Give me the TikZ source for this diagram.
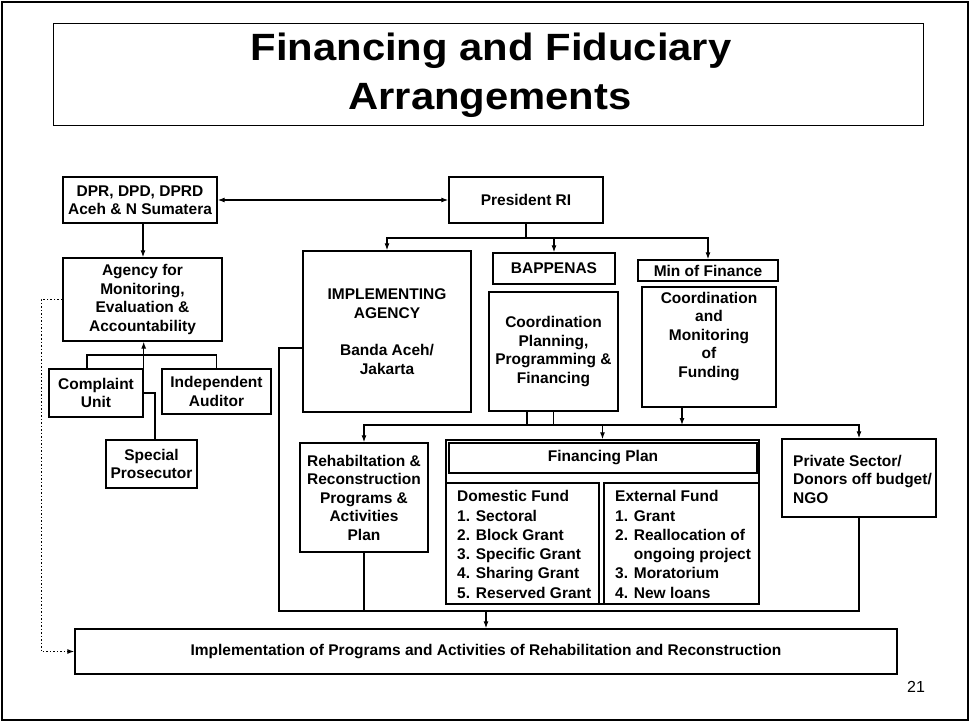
\documentclass[tikz,border=0pt]{standalone}
\usepackage{fontspec}
\setmainfont{Liberation Sans}
\newfontfamily\titlefont[FakeStretch=1.1]{Liberation Sans}
\usetikzlibrary{arrows.meta}
\newcommand\bodyf{\fontsize{15.5}{18.5}\selectfont\bfseries}
\newcommand\listf{\fontsize{15.5}{19.3}\selectfont\bfseries}
\tikzset{
  bx/.style={draw, line width=1.4pt, inner sep=0pt, align=center, font=\bodyf},
  txt/.style={inner sep=0pt, font=\bodyf},
  ln/.style={line width=1.1pt},
  arr/.style={ln, -{Latex[length=7pt,width=5pt]}},
  arrtwo/.style={ln, {Latex[length=7pt,width=5pt]}-{Latex[length=7pt,width=5pt]}},
  darr/.style={ln, dash pattern=on 1.5pt off 2pt, -{Latex[length=7pt,width=5pt]}},
}
\begin{document}
\begin{tikzpicture}[x=1pt,y=-1pt]
\useasboundingbox (0,0) rectangle (970,722);
\fill[white] (0,0) rectangle (970,722);
\draw[line width=1.5pt] (2,2) rectangle (968,720);
% title
\draw[line width=0.8pt] (53,23) rectangle (923,125);
\node[inner sep=0pt, anchor=base, font=\titlefont\fontsize{38}{49}\selectfont\bfseries] (t1) at (491,61) {Financing and Fiduciary};
\node[inner sep=0pt, anchor=base, font=\titlefont\fontsize{38}{49}\selectfont\bfseries] (t2) at (490,110) {Arrangements};
% left column
\node[bx, minimum width=154pt, minimum height=46pt] (dpr) at (140,200) {DPR, DPD, DPRD\\Aceh \& N Sumatera};
\node[bx, minimum width=159pt, minimum height=83pt] (amea) at (142.5,299.5) {Agency for\\Monitoring,\\Evaluation \&\\Accountability};
\node[bx, minimum width=94pt, minimum height=48pt] (cu) at (96,393) {Complaint\\Unit};
\node[bx, minimum width=109pt, minimum height=45pt] (aud) at (216.5,391.5) {Independent\\Auditor};
\node[bx, minimum width=91pt, minimum height=48pt] (sp) at (151.5,464) {Special\\Prosecutor};
% top
\node[bx, minimum width=154pt, minimum height=46pt] (pres) at (526,200) {President RI};
\node[bx, minimum width=168pt, minimum height=161pt] (iag) at (387,331.5) {IMPLEMENTING\\AGENCY\\[19pt]Banda Aceh/\\Jakarta};
\node[bx, minimum width=122pt, minimum height=31pt] (bap) at (554,268.5) {BAPPENAS};
\node[bx, minimum width=129pt, minimum height=119pt] (cpp) at (553.5,351.5) {Coordination\\Planning,\\Programming \&\\Financing};
\node[bx, minimum width=140pt, minimum height=21pt] (mof) at (708,270.5) {Min of Finance};
\node[bx, minimum width=134pt, minimum height=120pt] (cmf) at (709,347) {};
\node[txt, align=center] (cmft) at (709,336.5) {Coordination\\and\\Monitoring\\of\\Funding};
% lower row
\node[bx, minimum width=128pt, minimum height=109pt] (rehab) at (364,497.5) {Rehabiltation \&\\Reconstruction\\Programs \&\\Activities\\Plan};
\node[bx, minimum width=313pt, minimum height=164pt] (fpo) at (602.5,522) {};
\node[bx, minimum width=308pt, minimum height=30pt] (fpt) at (603,458) {Financing Plan};
\node[bx, minimum width=153pt, minimum height=121pt] (dom) at (522.5,543.5) {};
\node[bx, minimum width=155pt, minimum height=121pt] (ext) at (681.5,543.5) {};
\node[txt, font=\listf, align=left, anchor=west] (domt) at (457,544.5) {Domestic Fund\\1. Sectoral\\2. Block Grant\\3. Specific Grant\\4. Sharing Grant\\5. Reserved Grant};
\node[txt, font=\listf, align=left, anchor=west] (extt) at (615,544.5) {External Fund\\1. Grant\\2. Reallocation of\\\phantom{2. }ongoing project\\3. Moratorium\\4. New loans};
\node[bx, minimum width=154pt, minimum height=78pt] (priv) at (859,478) {};
\node[txt, align=left, anchor=west] (privt) at (793,479) {Private Sector/\\Donors off budget/\\NGO};
\node[bx, minimum width=822pt, minimum height=45pt] (impl) at (486,651.5) {Implementation of Programs and Activities of Rehabilitation and Reconstruction};
\node[inner sep=0pt, font=\fontsize{16}{18}\selectfont] (pg) at (916,687) {21};
% connectors left
\draw[arrtwo] (dpr.east) -- (pres.west);
\draw[arr] ([xshift=3pt]dpr.south) -- ([xshift=3pt]dpr.south |- amea.north);
\coordinate (brk) at (143,355);
\draw[ln] ([xshift=-9pt]cu.north) |- (brk) -| (aud.north);
\draw[arr] ([xshift=3.5pt]sp.north) |- (cu.east) -- (cu.north east) -- (cu.north east |- amea.south);
\draw[darr] (amea.west) -- ++(-21,0) |- (impl.west);
% president bus
\coordinate (pj) at (526,238);
\draw[ln] (pres.south) -- (pj);
\draw[arr] (pj) -| (iag.north);
\draw[arr] (pj) -| (bap.north);
\draw[arr] (pj) -| (mof.north);
% middle bus
\coordinate (busM) at (554,425);
\draw[ln] (cpp.south) -- (cpp.south |- busM);
\draw[ln] ([xshift=-26.5pt]cpp.south) -- ([xshift=-26.5pt]cpp.south |- busM);
\draw[arr] (busM) -| (rehab.north);
\draw[arr] (busM) -| (priv.north);
\draw[arr] (busM -| fpo.north) -- (fpo.north);
\draw[arr] ([xshift=-27pt]cmf.south) -- ([xshift=-27pt]cmf.south |- busM);
% bottom bus
\coordinate (busL) at (279,611);
\draw[ln] ([yshift=-16.5pt]iag.west) -| (busL) -| (priv.south);
\draw[ln] (rehab.south) -- (rehab.south |- busL);
\draw[arr] (impl.north |- busL) -- (impl.north);
\end{tikzpicture}
\end{document}
